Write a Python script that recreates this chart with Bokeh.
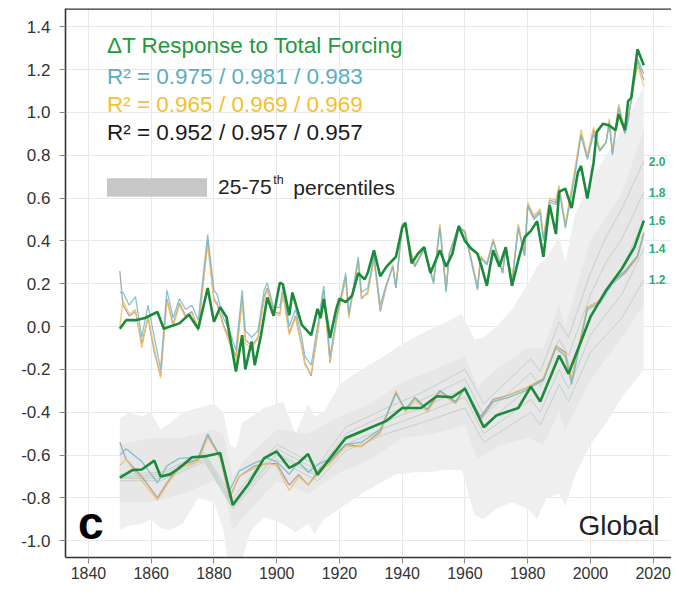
from bokeh.plotting import figure
from bokeh.models import FixedTicker, PrintfTickFormatter, Span, Label
from bokeh.embed import file_html
from bokeh.resources import INLINE

# ---------------- data ----------------
x_ticks = [1840, 1860, 1880, 1900, 1920, 1940, 1960, 1980, 2000, 2020]
y_ticks = [-1.0, -0.8, -0.6, -0.4, -0.2, 0.0, 0.2, 0.4, 0.6, 0.8, 1.0, 1.2, 1.4]

# upper group: annual response (green) and observational datasets
ug_years = [1850, 1852, 1855, 1858, 1862, 1864, 1866, 1869, 1872, 1875,
            1878, 1880, 1882, 1884, 1887, 1889, 1890, 1892, 1893, 1895,
            1897, 1899, 1901, 1902, 1904, 1905, 1908, 1911, 1913, 1914,
            1915, 1917, 1919, 1920, 1922, 1924, 1926, 1928, 1929, 1931,
            1933, 1935, 1938, 1940, 1941, 1943, 1945, 1947, 1949, 1952,
            1954, 1956, 1958, 1960, 1962, 1964, 1965, 1967, 1968, 1969,
            1971, 1973, 1975, 1977, 1979, 1981, 1983, 1985, 1987, 1989,
            1990, 1992, 1994, 1996, 1997, 1999, 2001, 2002, 2004, 2006,
            2008, 2009, 2011, 2012, 2013, 2015, 2017]
ug_green = [-0.01, 0.03, 0.03, 0.04, 0.068, -0.01, 0.00, 0.015, 0.056, -0.01,
            0.18, 0.023, 0.09, 0.045, -0.21, -0.04, -0.20, -0.07, -0.18, -0.04,
            0.136, 0.05, 0.205, 0.197, 0.053, 0.159, 0.008, -0.04, 0.083, 0.04,
            0.129, -0.053, 0.083, 0.13, 0.114, 0.144, 0.25, 0.22, 0.25, 0.356,
            0.235, 0.28, 0.326, 0.462, 0.485, 0.295, 0.34, 0.371, 0.25, 0.356,
            0.28, 0.34, 0.47, 0.40, 0.364, 0.34, 0.295, 0.19, 0.28, 0.356,
            0.28, 0.371, 0.19, 0.31, 0.417, 0.447, 0.492, 0.326, 0.568, 0.432,
            0.629, 0.644, 0.553, 0.72, 0.75, 0.598, 0.765, 0.909, 0.947, 0.939,
            0.917, 0.992, 0.917, 1.053, 1.068, 1.295, 1.22]

uo_years = [1850, 1851, 1853, 1855, 1857, 1859, 1861, 1863, 1865, 1867,
            1869, 1871, 1873, 1875, 1878, 1880, 1881, 1883, 1885, 1887,
            1889, 1890, 1892, 1894, 1896, 1897, 1899, 1901, 1902, 1904,
            1906, 1908, 1909, 1911, 1913, 1915, 1917, 1919, 1922, 1923,
            1926, 1927, 1929, 1931, 1933, 1935, 1937, 1938, 1940, 1941,
            1943, 1944, 1947, 1950, 1952, 1954, 1955, 1958, 1960, 1964,
            1965, 1967, 1969, 1972, 1973, 1975, 1977, 1979, 1980, 1982,
            1984, 1985, 1987, 1989, 1990, 1992, 1995, 1997, 1999, 2001,
            2003, 2005, 2006, 2007, 2009, 2011, 2012, 2014, 2015, 2017]
uo_teal = [0.16, 0.16, 0.10, 0.14, -0.05, 0.10, -0.05, -0.20, 0.17, 0.04,
           0.13, 0.08, 0.10, 0.03, 0.43, 0.17, 0.15, 0.04, -0.02, -0.11,
           0.17, -0.02, -0.05, -0.02, 0.17, 0.205, 0.09, 0.09, 0.19, 0.00,
           0.08, -0.05, -0.14, -0.18, 0.00, 0.19, -0.14, 0.04, 0.25, 0.06,
           0.326, 0.16, 0.18, 0.33, 0.10, 0.20, 0.28, 0.18, 0.48, 0.47,
           0.33, 0.28, 0.36, 0.20, 0.46, 0.16, 0.34, 0.47, 0.44, 0.17,
           0.32, 0.29, 0.40, 0.25, 0.36, 0.20, 0.46, 0.33, 0.56, 0.50,
           0.53, 0.40, 0.58, 0.57, 0.64, 0.46, 0.70, 0.89, 0.78, 0.90,
           0.82, 0.86, 0.95, 0.80, 1.02, 0.90, 0.96, 1.15, 1.25, 1.18]
uo_orange = [0.00, 0.12, 0.06, 0.08, -0.10, 0.05, -0.10, -0.24, 0.12, 0.00,
             0.10, 0.04, 0.06, 0.00, 0.38, 0.12, 0.10, 0.00, -0.08, -0.16,
             0.12, -0.08, -0.10, -0.06, 0.12, 0.17, 0.06, 0.05, 0.15, -0.04,
             0.04, -0.10, -0.18, -0.22, -0.04, 0.15, -0.16, 0.02, 0.22, 0.04,
             0.30, 0.14, 0.15, 0.31, 0.09, 0.19, 0.29, 0.19, 0.47, 0.46,
             0.34, 0.29, 0.37, 0.21, 0.48, 0.18, 0.33, 0.46, 0.45, 0.19,
             0.33, 0.30, 0.41, 0.26, 0.37, 0.22, 0.48, 0.34, 0.58, 0.52,
             0.55, 0.42, 0.60, 0.59, 0.66, 0.48, 0.73, 0.92, 0.80, 0.93,
             0.83, 0.86, 0.97, 0.82, 1.04, 0.92, 0.98, 1.14, 1.22, 1.12]
uo_gray = [0.26, 0.10, 0.05, 0.07, -0.08, 0.04, -0.12, -0.23, 0.13, 0.01,
           0.11, 0.05, 0.07, -0.02, 0.40, 0.13, 0.11, 0.01, -0.06, -0.14,
           0.14, -0.06, -0.09, -0.05, 0.14, 0.18, 0.07, 0.06, 0.16, -0.03,
           0.05, -0.09, -0.17, -0.23, -0.03, 0.17, -0.17, 0.03, 0.23, 0.05,
           0.31, 0.13, 0.16, 0.32, 0.07, 0.19, 0.28, 0.18, 0.47, 0.47,
           0.33, 0.28, 0.36, 0.21, 0.47, 0.17, 0.34, 0.47, 0.44, 0.18,
           0.32, 0.29, 0.40, 0.25, 0.36, 0.21, 0.47, 0.33, 0.57, 0.51,
           0.54, 0.41, 0.59, 0.58, 0.65, 0.47, 0.72, 0.90, 0.79, 0.92,
           0.82, 0.86, 0.96, 0.81, 1.03, 0.91, 0.97, 1.15, 1.24, 1.15]

# lower group: smoothed response (green) and smoothed observations
lg_years = [1850, 1854, 1857, 1861, 1863, 1866, 1869, 1873, 1877, 1882,
            1886, 1891, 1896, 1900, 1904, 1907, 1910, 1913, 1917, 1922,
            1927, 1935, 1940, 1946, 1951, 1956, 1960, 1966, 1970, 1973,
            1977, 1981, 1984, 1990, 1993, 2000, 2005, 2010, 2014, 2017]
lg_green = [-0.705, -0.67, -0.667, -0.626, -0.70, -0.69, -0.66, -0.61, -0.606, -0.59,
            -0.833, -0.735, -0.614, -0.583, -0.66, -0.636, -0.595, -0.692, -0.614, -0.52,
            -0.49, -0.44, -0.38, -0.38, -0.325, -0.33, -0.29, -0.47, -0.415, -0.40,
            -0.38, -0.28, -0.35, -0.136, -0.22, 0.045, 0.17, 0.27, 0.37, 0.495]

lo_years = [1850, 1852, 1857, 1862, 1865, 1869, 1875, 1878, 1882, 1885,
            1888, 1893, 1897, 1900, 1904, 1907, 1910, 1914, 1917, 1922,
            1927, 1933, 1938, 1941, 1944, 1948, 1952, 1957, 1960, 1965,
            1969, 1974, 1979, 1985, 1989, 1992, 1994, 1999, 2003, 2007,
            2011, 2015, 2017]
lo_teal = [-0.60, -0.57, -0.63, -0.73, -0.65, -0.615, -0.61, -0.50, -0.606, -0.765,
           -0.675, -0.636, -0.614, -0.63, -0.69, -0.63, -0.68, -0.636, -0.62, -0.55,
           -0.54, -0.48, -0.31, -0.39, -0.33, -0.385, -0.30, -0.355, -0.28, -0.43,
           -0.35, -0.33, -0.30, -0.25, -0.10, -0.14, -0.27, 0.08, 0.11, 0.20,
           0.25, 0.33, 0.43]
lo_orange = [-0.65, -0.62, -0.72, -0.81, -0.74, -0.66, -0.63, -0.515, -0.614, -0.795,
             -0.70, -0.66, -0.636, -0.65, -0.765, -0.70, -0.74, -0.674, -0.64, -0.56,
             -0.56, -0.50, -0.30, -0.40, -0.34, -0.40, -0.31, -0.36, -0.29, -0.44,
             -0.35, -0.32, -0.29, -0.24, -0.09, -0.13, -0.24, 0.09, 0.12, 0.21,
             0.25, 0.32, 0.44]
lo_gray = [-0.54, -0.62, -0.70, -0.80, -0.73, -0.65, -0.62, -0.51, -0.61, -0.80,
           -0.70, -0.65, -0.64, -0.64, -0.74, -0.69, -0.74, -0.66, -0.63, -0.55,
           -0.56, -0.49, -0.31, -0.39, -0.335, -0.39, -0.30, -0.35, -0.29, -0.42,
           -0.34, -0.32, -0.29, -0.245, -0.09, -0.12, -0.25, 0.09, 0.12, 0.21,
           0.26, 0.33, 0.44]

# sensitivity lines labelled at right
ecs_labels = ["2.0", "1.8", "1.6", "1.4", "1.2"]
ecs_years = [1850, 1863, 1877, 1886, 1900, 1913, 1922, 1935, 1946, 1960,
             1966, 1981, 1984, 1990, 1993, 2000, 2005, 2010, 2017]
ecs_20 = [-0.69, -0.68, -0.59, -0.80, -0.55, -0.65, -0.47, -0.38, -0.31, -0.20,
          -0.36, -0.15, -0.21, 0.02, -0.05, 0.25, 0.42, 0.55, 0.773]
ecs_18 = [-0.70, -0.69, -0.60, -0.82, -0.57, -0.67, -0.50, -0.41, -0.345, -0.245,
          -0.415, -0.215, -0.28, -0.06, -0.135, 0.15, 0.30, 0.41, 0.627]
ecs_16 = [-0.705, -0.70, -0.61, -0.83, -0.59, -0.69, -0.53, -0.44, -0.38, -0.29,
          -0.46, -0.28, -0.35, -0.14, -0.22, 0.05, 0.17, 0.27, 0.495]
ecs_14 = [-0.71, -0.71, -0.62, -0.84, -0.60, -0.70, -0.55, -0.47, -0.41, -0.33,
          -0.50, -0.34, -0.40, -0.20, -0.29, -0.04, 0.06, 0.15, 0.364]
ecs_12 = [-0.72, -0.72, -0.63, -0.85, -0.62, -0.72, -0.58, -0.50, -0.45, -0.38,
          -0.54, -0.40, -0.46, -0.27, -0.35, -0.12, -0.04, 0.04, 0.218]

# percentile bands
ob_years = [1850, 1853, 1857, 1860, 1863, 1866, 1870, 1875, 1880, 1883,
            1885, 1887, 1889, 1892, 1896, 1902, 1906, 1910, 1912, 1915,
            1920, 1927, 1933, 1938, 1944, 1948, 1954, 1959, 1963, 1966,
            1970, 1975, 1980, 1983, 1986, 1990, 1992, 1995, 2000, 2005,
            2010, 2017]
ob_top = [-0.43, -0.40, -0.42, -0.40, -0.48, -0.45, -0.40, -0.38, -0.36, -0.40,
          -0.55, -0.57, -0.45, -0.42, -0.38, -0.35, -0.50, -0.36, -0.42, -0.40,
          -0.27, -0.20, -0.15, -0.10, -0.05, -0.02, 0.02, 0.06, -0.06, -0.05,
          0.00, 0.08, 0.20, 0.28, 0.32, 0.42, 0.30, 0.52, 0.68, 0.80,
          0.92, 1.12]
ob_bot = [-0.95, -0.93, -0.92, -0.90, -0.94, -0.95, -0.92, -0.80, -0.82, -0.95,
          -1.15, -1.15, -1.08, -0.95, -0.89, -0.92, -0.96, -0.92, -0.97, -0.90,
          -0.85, -0.78, -0.73, -0.69, -0.68, -0.68, -0.67, -0.67, -0.88, -0.90,
          -0.85, -0.82, -0.85, -0.90, -0.80, -0.78, -0.84, -0.70, -0.55, -0.45,
          -0.33, -0.20]
ib_years = [1850, 1860, 1870, 1880, 1883, 1886, 1890, 1900, 1910, 1920,
            1930, 1940, 1950, 1960, 1964, 1970, 1980, 1985, 1990, 1992,
            2000, 2010, 2017]
ib_top = [-0.55, -0.52, -0.52, -0.48, -0.50, -0.70, -0.62, -0.48, -0.50, -0.42,
          -0.36, -0.26, -0.20, -0.14, -0.28, -0.20, -0.10, -0.10, 0.10, 0.00,
          0.40, 0.62, 0.92]
ib_bot = [-0.82, -0.82, -0.78, -0.72, -0.75, -0.95, -0.88, -0.72, -0.78, -0.68,
          -0.62, -0.52, -0.50, -0.46, -0.62, -0.56, -0.52, -0.55, -0.40, -0.48,
          -0.25, -0.05, 0.10]

# ---------------- figure ----------------
FONT = "Liberation Sans"
Y_TOP = 1.485
p = figure(width=671, height=587, x_range=(1832.69, 2025.83), y_range=(-1.078, Y_TOP),
           output_backend="svg", toolbar_location=None,
           min_border_left=65, min_border_right=0, min_border_top=8, min_border_bottom=30)
p.outline_line_color = None
p.background_fill_color = "white"

for ax in (p.xaxis[0], p.yaxis[0]):
    ax.axis_line_color = "#333333"
    ax.axis_line_width = 1.6
    ax.major_tick_line_color = "#888888"
    ax.minor_tick_line_color = None
    ax.major_tick_in = 0
    ax.major_label_text_font = FONT
    ax.major_label_text_color = "#333333"

p.xaxis.ticker = FixedTicker(ticks=x_ticks)
p.xaxis.formatter = PrintfTickFormatter(format="%d")
p.xaxis.major_tick_out = 6
p.xaxis.major_label_standoff = 3
p.xaxis.major_label_text_font_size = "16px"
p.yaxis.ticker = FixedTicker(ticks=y_ticks)
p.yaxis.formatter = PrintfTickFormatter(format="%.1f")
p.yaxis.major_tick_out = 6
p.yaxis.major_label_standoff = 9
p.yaxis.major_label_text_font_size = "17px"

p.xgrid.ticker = FixedTicker(ticks=x_ticks)
p.ygrid.ticker = FixedTicker(ticks=y_ticks)
p.grid.grid_line_color = "#e9e9e9"
p.grid.grid_line_width = 1

p.add_layout(Span(location=Y_TOP, dimension="width", line_color="#333333", line_width=2.5))

# bands
p.varea(x=ob_years, y1=ob_bot, y2=ob_top, fill_color="#efefef", fill_alpha=1.0)
p.varea(x=ib_years, y1=ib_bot, y2=ib_top, fill_color="#e6e6e6", fill_alpha=0.9)

# sensitivity lines
ecs_series = [ecs_20, ecs_18, ecs_16, ecs_14, ecs_12]
for s in ecs_series:
    p.line(ecs_years, s, line_color="#bccac3", line_width=1.0, line_alpha=0.8)

# lower smoothed observations
p.line(lo_years, lo_gray, line_color="#9c8f9e", line_width=1.3, line_alpha=0.8)
p.line(lo_years, lo_orange, line_color="#f0c060", line_width=1.3, line_alpha=0.85)
p.line(lo_years, lo_teal, line_color="#74b7c6", line_width=1.3, line_alpha=0.85)
p.line(lg_years, lg_green, line_color="#1b8a3a", line_width=2.6)

# upper observations
p.line(uo_years, uo_gray, line_color="#9c8f9e", line_width=1.3, line_alpha=0.8)
p.line(uo_years, uo_orange, line_color="#f0c060", line_width=1.3, line_alpha=0.85)
p.line(uo_years, uo_teal, line_color="#74b7c6", line_width=1.3, line_alpha=0.85)
p.line(ug_years, ug_green, line_color="#1b8a3a", line_width=2.6)

# right-hand sensitivity labels
for lab_txt, s in zip(ecs_labels, ecs_series):
    p.add_layout(Label(x=2018.6, y=s[-1], text=lab_txt, text_font=FONT, text_font_size="12px",
                       text_font_style="bold", text_color="#2aae74", text_baseline="middle"))

# header texts
def lab(x, y, t, color, size, style="normal", baseline="middle"):
    p.add_layout(Label(x=x, y=y, text=t, text_font=FONT, text_font_size=size,
                       text_color=color, text_font_style=style, text_baseline=baseline))

lab(1845.9, 1.3136, "\u0394T Response to Total Forcing", "#1f9a3e", "22.5px")
lab(1845.9, 1.168, "R\u00b2 = 0.975 / 0.981 / 0.983", "#5aaebe", "22.5px")
lab(1845.9, 1.036, "R\u00b2 = 0.965 / 0.969 / 0.969", "#f4c02e", "22.5px")
lab(1845.9, 0.905, "R\u00b2 = 0.952 / 0.957 / 0.957", "#1a1a1a", "22.5px")

p.quad(left=[1845.9], right=[1877.8], bottom=[0.606], top=[0.692],
       fill_color="#c7c7c7", line_color=None)
lab(1881.3, 0.650, "25-75", "#222222", "21px")
lab(1898.9, 0.684, "th", "#222222", "12.5px")
lab(1905.3, 0.650, "percentiles", "#222222", "21px")

lab(1836.7, -0.915, "c", "#000000", "46px", style="bold")
lab(1996.2, -0.930, "Global", "#222222", "28px")

open("out.html", "w").write(file_html(p, INLINE))
